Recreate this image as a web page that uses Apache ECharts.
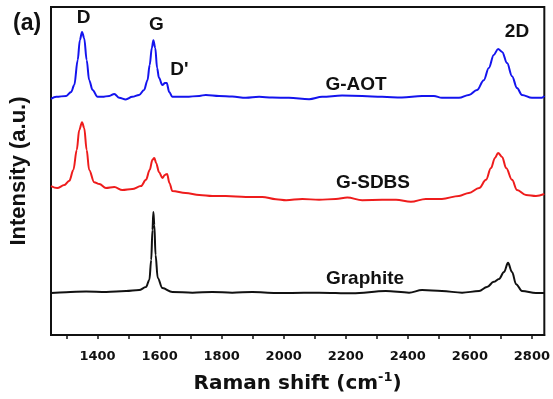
<!DOCTYPE html>
<html lang="en">
<head>
    <meta charset="UTF-8">
    <title>Raman</title>
    <script src="https://cdn.jsdelivr.net/npm/echarts@6/dist/echarts.min.js"></script>
    <style>
        html, body { margin: 0; padding: 0; background: #fff; }
    </style>
</head>
<body>
<div id="demo" style="width: 553px;height: 399px;"></div>
</body>
</html>
<script>
    // [Raman shift, intensity] (arbitrary units, offsets kept)
    var gAot = [
        [1250, 72.0], [1267, 72.6], [1299, 72.9], [1315, 74.1], [1325, 76.2], [1336, 83.8],
        [1343, 89.9], [1350, 92.4], [1357, 90.5], [1365, 83.8], [1373, 77.7], [1384, 74.7],
        [1400, 72.6], [1415, 72.6], [1438, 72.9], [1454, 73.5], [1470, 72.3], [1491, 71.8],
        [1512, 72.6], [1534, 73.2], [1550, 74.7], [1561, 77.7], [1568, 82.3], [1575, 87.5],
        [1580, 89.9], [1586, 87.5], [1592, 81.4], [1598, 78.4], [1609, 76.2], [1617, 76.8],
        [1623, 76.8], [1631, 74.1], [1641, 72.6], [1685, 72.6], [1728, 72.9], [1749, 73.2],
        [1792, 72.9], [1834, 72.7], [1878, 72.3], [1921, 72.6], [1963, 72.4], [2017, 72.3],
        [2082, 71.9], [2124, 72.6], [2188, 73.0], [2253, 72.9], [2317, 72.6], [2381, 72.4],
        [2446, 72.9], [2484, 72.9], [2510, 72.3], [2565, 72.3], [2597, 73.2], [2623, 74.7],
        [2645, 77.7], [2661, 81.4], [2677, 85.4], [2691, 87.2], [2704, 86.3], [2720, 82.9],
        [2736, 78.9], [2752, 75.3], [2768, 73.2], [2800, 72.3], [2832, 72.3], [2840, 72.9]
    ];
    var gSdbs = [
        [1250, 45.4], [1270, 44.8], [1293, 45.7], [1309, 47.0], [1322, 50.3], [1333, 56.4],
        [1341, 62.5], [1350, 64.9], [1357, 63.1], [1365, 56.4], [1373, 50.3], [1389, 46.6],
        [1406, 46.0], [1427, 44.8], [1454, 45.1], [1480, 44.2], [1512, 44.5], [1540, 45.4],
        [1556, 47.3], [1568, 50.3], [1577, 53.4], [1583, 54.0], [1589, 52.4], [1598, 49.7],
        [1609, 47.9], [1617, 48.8], [1624, 49.1], [1632, 46.3], [1641, 43.9], [1684, 43.3],
        [1728, 42.7], [1770, 42.4], [1813, 42.4], [1878, 42.1], [1931, 42.1], [1975, 41.4],
        [2008, 41.1], [2060, 41.5], [2114, 41.2], [2168, 41.5], [2205, 41.9], [2253, 41.1],
        [2317, 41.2], [2362, 41.2], [2410, 40.6], [2458, 41.5], [2510, 41.5], [2565, 42.4],
        [2597, 43.3], [2630, 44.8], [2652, 47.3], [2668, 50.9], [2681, 54.0], [2691, 55.5],
        [2704, 54.3], [2717, 50.9], [2736, 47.3], [2752, 44.2], [2781, 42.7], [2813, 42.4],
        [2840, 43.0]
    ];
    var graphite = [
        [1250, 12.8], [1299, 13.0], [1363, 13.3], [1428, 13.1], [1492, 13.4], [1534, 13.7],
        [1556, 14.6], [1567, 16.8], [1573, 22.9], [1577, 32.0], [1580, 37.5], [1583, 33.5],
        [1587, 24.4], [1594, 17.4], [1609, 14.3], [1641, 13.1], [1706, 12.9], [1770, 13.1],
        [1834, 12.9], [1899, 13.1], [1975, 12.8], [2017, 12.8], [2114, 12.9], [2221, 12.7],
        [2329, 13.4], [2404, 12.9], [2446, 13.7], [2510, 13.4], [2575, 12.9], [2630, 13.4],
        [2655, 14.6], [2677, 16.2], [2694, 17.1], [2710, 19.2], [2723, 22.0], [2736, 19.2],
        [2749, 15.5], [2768, 13.4], [2813, 12.8], [2840, 12.8]
    ];
    // peak and sample names: [x, y, text]
    var notes = [
        [1355, 96.6, 'D'], [1590, 94.5, 'G'], [1664, 80.8, "D'"], [2752, 92.4, '2D'],
        [2233, 76.2, 'G-AOT'], [2288, 46.3, 'G-SDBS'], [2262, 17.1, 'Graphite']
    ];
    var labelTicks = [1400, 1600, 1800, 2000, 2200, 2400, 2600, 2800];
    var allTicks = [1300, 1400, 1500, 1600, 1700, 1800, 1900, 2000, 2100, 2200, 2300, 2400, 2500, 2600, 2700, 2800];

    var font = 'Liberation Sans, Arial, sans-serif';
    var wide = 'DejaVu Sans, sans-serif';
    var myChart = echarts.init(document.getElementById('demo'));

    function line(name, data, color) {
        return {
            name: name,
            type: 'line',
            data: data,
            showSymbol: false,
            smooth: 0.35,
            smoothMonotone: 'x',
            lineStyle: { color: color, width: 2 },
            itemStyle: { color: color },
            animation: false
        };
    }

    var option = {
        title: {
            text: '(a)',
            left: 8,
            top: 7,
            textStyle: { fontFamily: font, fontWeight: 'bold', fontSize: 23, color: '#111' }
        },
        grid: {
            left: 51, right: 7, top: 7, bottom: 64,
            show: true, borderColor: '#111', borderWidth: 2, backgroundColor: 'transparent'
        },
        xAxis: {
            type: 'value',
            min: 1250,
            max: 2840,
            name: 'Raman shift (cm{s|-1})',
            nameLocation: 'middle',
            nameGap: 36,
            nameTextStyle: {
                fontFamily: wide, fontWeight: 'bold', fontSize: 20, color: '#111',
                rich: { s: { fontFamily: wide, fontWeight: 'bold', fontSize: 13, color: '#111', verticalAlign: 'top', padding: [0, 0, 12, 0] } }
            },
            splitLine: { show: false },
            axisLine: { show: true, lineStyle: { color: '#111', width: 2 } },
            axisTick: { show: true, inside: false, length: 4, customValues: allTicks, lineStyle: { color: '#111', width: 1.5 } },
            axisLabel: {
                customValues: labelTicks,
                formatter: function (v) { return String(v); },
                margin: 15,
                fontFamily: wide, fontWeight: 'bold', fontSize: 13, color: '#111'
            }
        },
        yAxis: {
            type: 'value',
            min: 0,
            max: 100,
            name: 'Intensity (a.u.)',
            nameLocation: 'middle',
            nameGap: 21,
            nameTextStyle: { fontFamily: font, fontWeight: 'bold', fontSize: 22, color: '#111' },
            splitLine: { show: false },
            axisLine: { show: true, lineStyle: { color: '#111', width: 2 } },
            axisTick: { show: false },
            axisLabel: { show: false }
        },
        series: [
            line('G-AOT', gAot, '#1414ee'),
            line('G-SDBS', gSdbs, '#ee1c1c'),
            line('Graphite', graphite, '#111111'),
            {
                name: 'notes',
                type: 'scatter',
                data: notes,
                symbolSize: 0,
                silent: true,
                animation: false,
                itemStyle: { opacity: 1, color: '#111' },
                label: {
                    show: true,
                    position: 'inside',
                    opacity: 1,
                    formatter: function (p) { return p.data[2]; },
                    fontFamily: font, fontWeight: 'bold', fontSize: 19, color: '#111',
                    textBorderWidth: 0
                }
            }
        ]
    };
    myChart.setOption(option);
</script>
